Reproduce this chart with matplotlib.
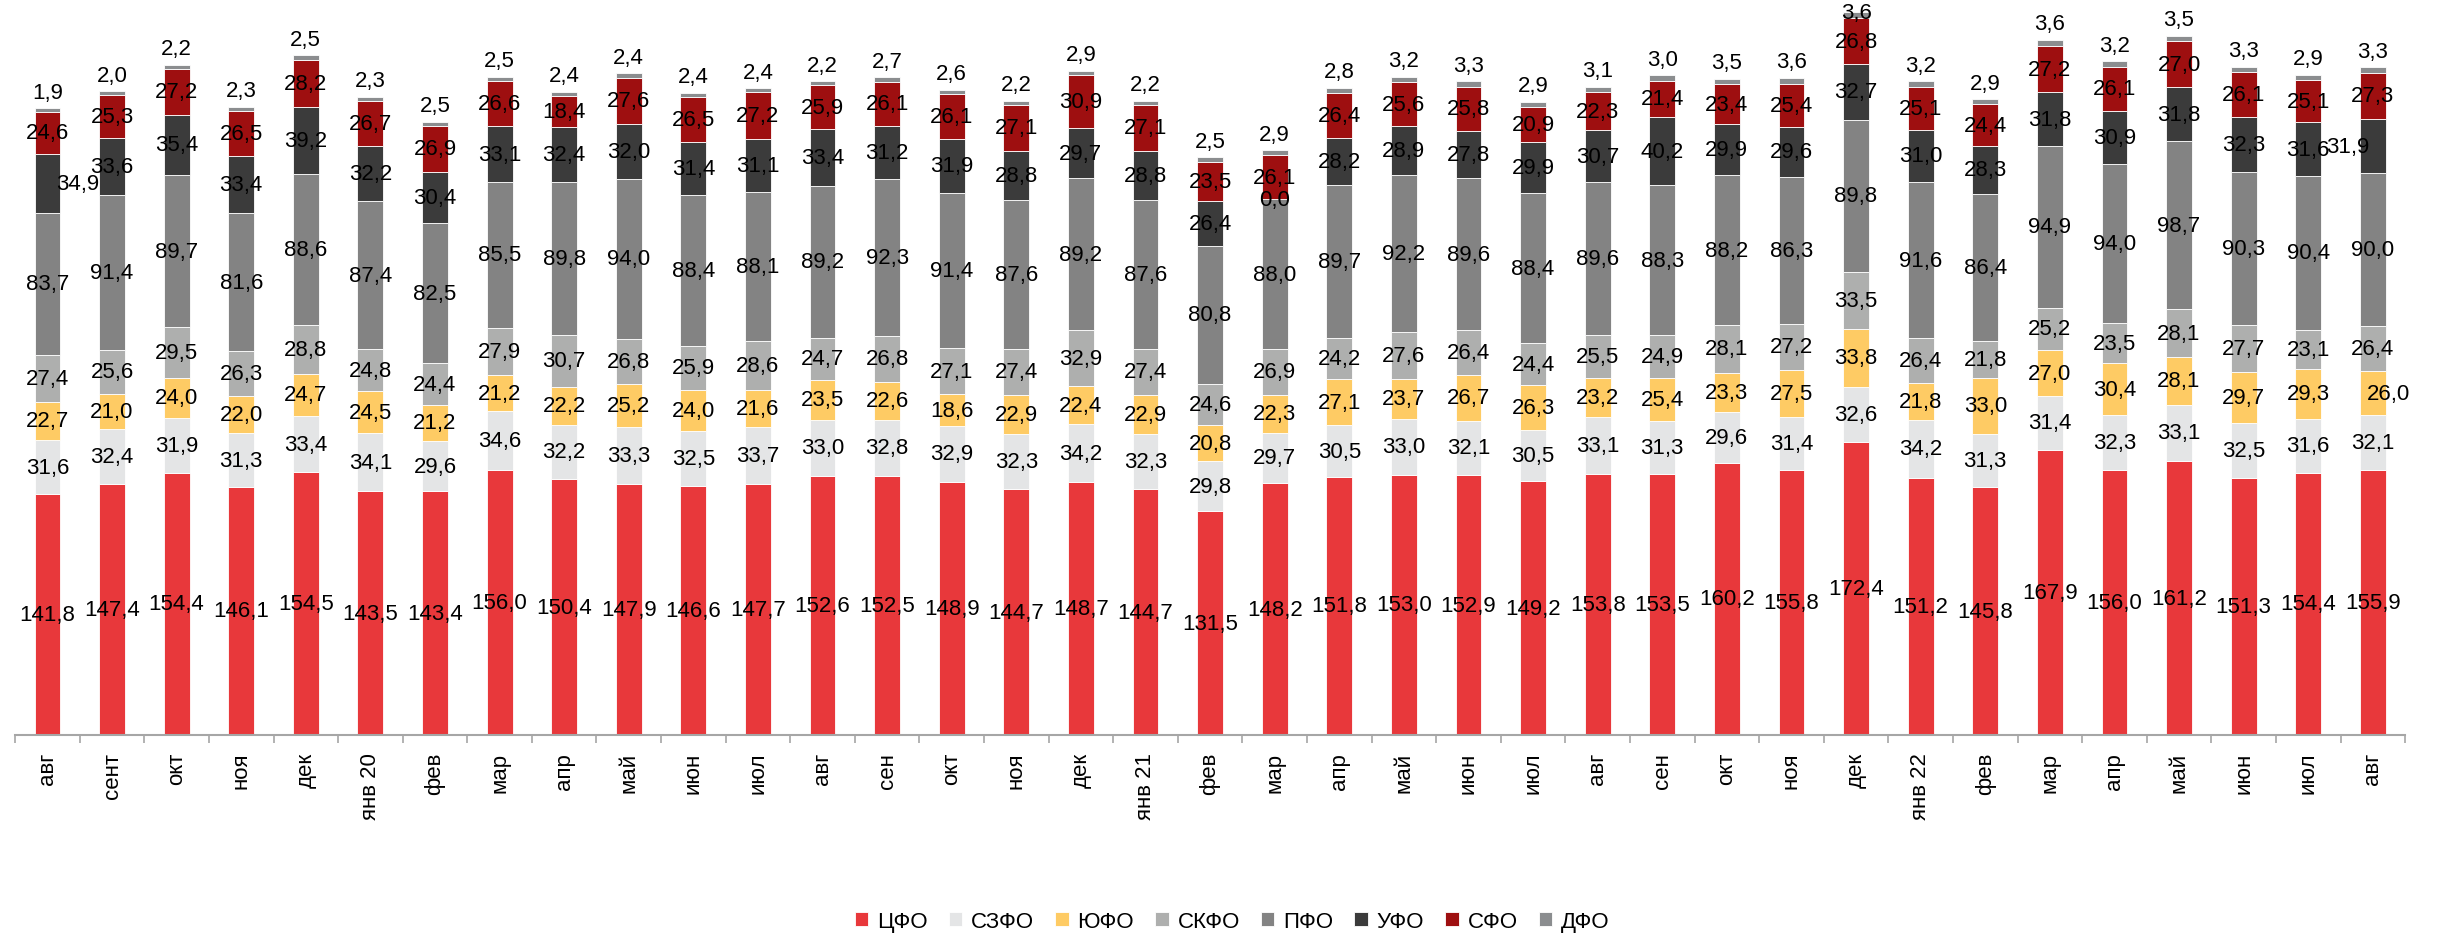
import numpy as np
import matplotlib.pyplot as plt
from matplotlib.ticker import FixedLocator

plt.rcParams['font.family'] = ['Liberation Sans', 'DejaVu Sans']

months = ['авг', 'сент', 'окт', 'ноя', 'дек', 'янв 20', 'фев', 'мар', 'апр', 'май',
          'июн', 'июл', 'авг', 'сен', 'окт', 'ноя', 'дек', 'янв 21', 'фев', 'мар',
          'апр', 'май', 'июн', 'июл', 'авг', 'сен', 'окт', 'ноя', 'дек', 'янв 22',
          'фев', 'мар', 'апр', 'май', 'июн', 'июл', 'авг']

cfo = [141.8, 147.4, 154.4, 146.1, 154.5, 143.5, 143.4, 156.0, 150.4, 147.9,
       146.6, 147.7, 152.6, 152.5, 148.9, 144.7, 148.7, 144.7, 131.5, 148.2,
       151.8, 153.0, 152.9, 149.2, 153.8, 153.5, 160.2, 155.8, 172.4, 151.2,
       145.8, 167.9, 156.0, 161.2, 151.3, 154.4, 155.9]
szfo = [31.6, 32.4, 31.9, 31.3, 33.4, 34.1, 29.6, 34.6, 32.2, 33.3,
        32.5, 33.7, 33.0, 32.8, 32.9, 32.3, 34.2, 32.3, 29.8, 29.7,
        30.5, 33.0, 32.1, 30.5, 33.1, 31.3, 29.6, 31.4, 32.6, 34.2,
        31.3, 31.4, 32.3, 33.1, 32.5, 31.6, 32.1]
yufo = [22.7, 21.0, 24.0, 22.0, 24.7, 24.5, 21.2, 21.2, 22.2, 25.2,
        24.0, 21.6, 23.5, 22.6, 18.6, 22.9, 22.4, 22.9, 20.8, 22.3,
        27.1, 23.7, 26.7, 26.3, 23.2, 25.4, 23.3, 27.5, 33.8, 21.8,
        33.0, 27.0, 30.4, 28.1, 29.7, 29.3, 26.0]
skfo = [27.4, 25.6, 29.5, 26.3, 28.8, 24.8, 24.4, 27.9, 30.7, 26.8,
        25.9, 28.6, 24.7, 26.8, 27.1, 27.4, 32.9, 27.4, 24.6, 26.9,
        24.2, 27.6, 26.4, 24.4, 25.5, 24.9, 28.1, 27.2, 33.5, 26.4,
        21.8, 25.2, 23.5, 28.1, 27.7, 23.1, 26.4]
pfo = [83.7, 91.4, 89.7, 81.6, 88.6, 87.4, 82.5, 85.5, 89.8, 94.0,
       88.4, 88.1, 89.2, 92.3, 91.4, 87.6, 89.2, 87.6, 80.8, 88.0,
       89.7, 92.2, 89.6, 88.4, 89.6, 88.3, 88.2, 86.3, 89.8, 91.6,
       86.4, 94.9, 94.0, 98.7, 90.3, 90.4, 90.0]
ufo = [34.9, 33.6, 35.4, 33.4, 39.2, 32.2, 30.4, 33.1, 32.4, 32.0,
       31.4, 31.1, 33.4, 31.2, 31.9, 28.8, 29.7, 28.8, 26.4, 0.0,
       28.2, 28.9, 27.8, 29.9, 30.7, 40.2, 29.9, 29.6, 32.7, 31.0,
       28.3, 31.8, 30.9, 31.8, 32.3, 31.6, 31.9]
sfo = [24.6, 25.3, 27.2, 26.5, 28.2, 26.7, 26.9, 26.6, 18.4, 27.6,
       26.5, 27.2, 25.9, 26.1, 26.1, 27.1, 30.9, 27.1, 23.5, 26.1,
       26.4, 25.6, 25.8, 20.9, 22.3, 21.4, 23.4, 25.4, 26.8, 25.1,
       24.4, 27.2, 26.1, 27.0, 26.1, 25.1, 27.3]
dfo = [1.9, 2.0, 2.2, 2.3, 2.5, 2.3, 2.5, 2.5, 2.4, 2.4,
       2.4, 2.4, 2.2, 2.7, 2.6, 2.2, 2.9, 2.2, 2.5, 2.9,
       2.8, 3.2, 3.3, 2.9, 3.1, 3.0, 3.5, 3.6, 3.6, 3.2,
       2.9, 3.6, 3.2, 3.5, 3.3, 2.9, 3.3]

names = ['ЦФО', 'СЗФО', 'ЮФО', 'СКФО', 'ПФО', 'УФО', 'СФО', 'ДФО']
series = [cfo, szfo, yufo, skfo, pfo, ufo, sfo, dfo]
colors = ['#E8383B', '#E4E5E6', '#FECB64', '#AEAFAE', '#838383', '#3B3B3B', '#9E0F10', '#8B8D8F']

# a few labels were nudged by hand in the original (series index, bar index): dx in points
nudge = {(5, 0): 22, (5, 36): -18, (2, 36): 11}

fig = plt.figure(figsize=(24.4, 9.37), dpi=100)
ax = fig.add_axes([0.0062, 0.2145, 0.9795, 0.7855])
ymax = 433

x = np.arange(len(months))
bottom = np.zeros(len(months))
for k, (name, vals, col) in enumerate(zip(names, series, colors)):
    vals = np.array(vals)
    ax.bar(x, vals, 0.4, bottom=bottom, color=col, edgecolor='white',
           linewidth=0.6, label=name)
    for i, v in enumerate(vals):
        txt = f'{v:.1f}'.replace('.', ',')
        if k == len(series) - 1:
            top = bottom[i] + v
            if top > ymax - 12:
                # no room above: sit the label on the bar top
                ax.annotate(txt, (x[i], top), ha='center', va='center', fontsize=16)
            else:
                ax.annotate(txt, (x[i], top), xytext=(0, 4), textcoords='offset points',
                            ha='center', va='bottom', fontsize=16)
        else:
            ax.annotate(txt, (x[i], bottom[i] + v / 2), xytext=(nudge.get((k, i), 0), 0),
                        textcoords='offset points', ha='center', va='center', fontsize=16)
    bottom += vals

ax.set_xlim(-0.5, len(months) - 0.5)
ax.set_ylim(0, ymax)
ax.set_xticks(x)
ax.set_xticklabels(months, rotation=90, fontsize=16)
ax.tick_params(axis='x', which='major', length=0, pad=12)
ax.xaxis.set_minor_locator(FixedLocator(np.arange(-0.5, len(months), 1)))
ax.tick_params(axis='x', which='minor', length=6, color='#A6A6A6', width=1.2)
ax.set_yticks([])
for s in ['top', 'right', 'left']:
    ax.spines[s].set_visible(False)
ax.spines['bottom'].set_color('#A6A6A6')
ax.spines['bottom'].set_linewidth(1.5)

fig.legend(loc='center', bbox_to_anchor=(0.505, 0.016), ncol=8, frameon=False,
           fontsize=16, handlelength=0.6, handleheight=0.6, handletextpad=0.4,
           columnspacing=0.95)

fig.savefig('out.png', dpi=100)
